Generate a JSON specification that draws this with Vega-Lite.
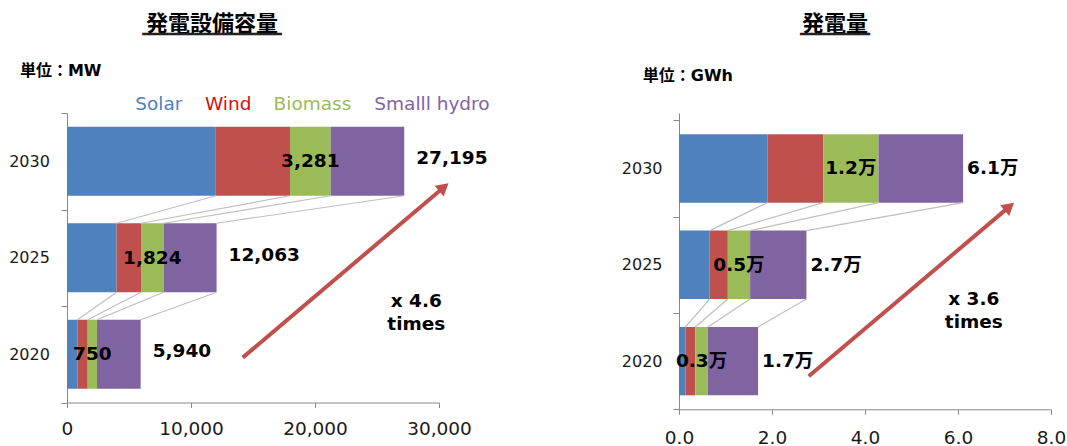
{
  "$schema": "https://vega.github.io/schema/vega-lite/v6.json",
  "padding": {"left": 8, "top": 12, "right": 0, "bottom": 0},
  "background": "white",
  "datasets": {
    "capacity": [
      {"year": "2020", "src": "Solar", "k": 1, "v": 850},
      {"year": "2020", "src": "Wind", "k": 2, "v": 820},
      {"year": "2020", "src": "Biomass", "k": 3, "v": 750},
      {"year": "2020", "src": "Smalll hydro", "k": 4, "v": 3520},
      {"year": "2025", "src": "Solar", "k": 1, "v": 4000},
      {"year": "2025", "src": "Wind", "k": 2, "v": 1970},
      {"year": "2025", "src": "Biomass", "k": 3, "v": 1824},
      {"year": "2025", "src": "Smalll hydro", "k": 4, "v": 4269},
      {"year": "2030", "src": "Solar", "k": 1, "v": 12000},
      {"year": "2030", "src": "Wind", "k": 2, "v": 5985},
      {"year": "2030", "src": "Biomass", "k": 3, "v": 3281},
      {"year": "2030", "src": "Smalll hydro", "k": 4, "v": 5929}
    ],
    "generation": [
      {"year": "2020", "src": "Solar", "k": 1, "v": 0.14},
      {"year": "2020", "src": "Wind", "k": 2, "v": 0.21},
      {"year": "2020", "src": "Biomass", "k": 3, "v": 0.27},
      {"year": "2020", "src": "Smalll hydro", "k": 4, "v": 1.08},
      {"year": "2025", "src": "Solar", "k": 1, "v": 0.66},
      {"year": "2025", "src": "Wind", "k": 2, "v": 0.39},
      {"year": "2025", "src": "Biomass", "k": 3, "v": 0.48},
      {"year": "2025", "src": "Smalll hydro", "k": 4, "v": 1.21},
      {"year": "2030", "src": "Solar", "k": 1, "v": 1.9},
      {"year": "2030", "src": "Wind", "k": 2, "v": 1.2},
      {"year": "2030", "src": "Biomass", "k": 3, "v": 1.19},
      {"year": "2030", "src": "Smalll hydro", "k": 4, "v": 1.82}
    ]
  },
  "config": {
    "view": {"stroke": null},
    "axis": {"grid": false, "domainColor": "#898989", "tickColor": "#898989", "labelColor": "#1a1a1a", "labelFont": "DejaVu Sans", "labelOverlap": false, "labelFlush": false}
  },
  "resolve": {"legend": {"color": "independent"}},
  "spacing": 131,
  "hconcat": [
    {
      "width": 372,
      "height": 289.5,
      "data": {"name": "capacity"},
      "title": {
        "text": "発電設備容量",
        "subtitle": "━━━━━━━━━━━━━━━━",
        "font": "Noto Sans CJK JP",
        "fontSize": 22,
        "fontWeight": "bold",
        "color": "#000000",
        "subtitleFont": "DejaVu Sans Mono",
        "subtitleFontSize": 14.5,
        "subtitleColor": "#222222",
        "subtitlePadding": -8,
        "anchor": "middle",
        "frame": "group",
        "dx": -41,
        "offset": 20
      },
      "layer": [
        {
          "mark": {"type": "bar", "height": {"band": 0.715}},
          "encoding": {
            "y": {
              "field": "year", "type": "nominal",
              "scale": {"domain": ["2030", "2025", "2020"], "paddingInner": 0, "paddingOuter": 0},
              "axis": {
                "title": "単位：MW", "titleAngle": 0, "titleX": -47.6, "titleY": -43,
                "titleAlign": "left", "titleBaseline": "middle",
                "titleFont": "DejaVu Sans, Noto Sans CJK JP", "titleFontWeight": "bold", "titleFontSize": 16, "titleColor": "#000000",
                "tickBand": "extent", "tickSize": 6, "labelPadding": 11.6, "labelFontSize": 16
              }
            },
            "x": {
              "field": "v", "type": "quantitative", "stack": "zero",
              "scale": {"domain": [0, 30000]},
              "axis": {"values": [0, 10000, 20000, 30000], "format": ",d", "title": null, "tickSize": 5, "labelPadding": 12, "labelFontSize": 18.5}
            },
            "color": {
              "field": "src", "type": "nominal",
              "scale": {"domain": ["Solar", "Wind", "Biomass", "Smalll hydro"], "range": ["#4F81BD", "#C0504D", "#9BBB59", "#8064A2"]},
              "legend": {
                "orient": "none", "legendX": 49.7, "legendY": -18, "direction": "horizontal", "title": null,
                "symbolSize": 0, "symbolStrokeWidth": 0, "symbolOpacity": 0, "labelOffset": 0, "columnPadding": 3.7,
                "labelFont": "DejaVu Sans", "labelFontSize": 18.5, "labelLimit": 0,
                "labelColor": {"expr": "datum.value === 'Solar' ? '#4F81BD' : datum.value === 'Wind' ? '#D01010' : datum.value === 'Biomass' ? '#9BBB59' : '#8064A2'"}
              }
            },
            "order": {"field": "k", "type": "quantitative"}
          }
        },
        {
          "transform": [
            {"stack": "v", "groupby": ["year"], "sort": [{"field": "k"}], "as": ["s0", "s1"]},
            {"pivot": "year", "value": "s1", "groupby": ["k"]}
          ],
          "mark": {"type": "rule", "color": "#BFBFBF", "strokeWidth": 1.2},
          "encoding": {
            "x": {"field": "2030", "type": "quantitative"},
            "x2": {"field": "2025"},
            "y": {"datum": "2030", "type": "nominal", "bandPosition": 0.8575},
            "y2": {"datum": "2025", "bandPosition": 0.1425}
          }
        },
        {
          "transform": [
            {"stack": "v", "groupby": ["year"], "sort": [{"field": "k"}], "as": ["s0", "s1"]},
            {"pivot": "year", "value": "s1", "groupby": ["k"]}
          ],
          "mark": {"type": "rule", "color": "#BFBFBF", "strokeWidth": 1.2},
          "encoding": {
            "x": {"field": "2025", "type": "quantitative"},
            "x2": {"field": "2020"},
            "y": {"datum": "2025", "type": "nominal", "bandPosition": 0.8575},
            "y2": {"datum": "2020", "bandPosition": 0.1425}
          }
        },
        {
          "transform": [
            {"stack": "v", "groupby": ["year"], "sort": [{"field": "k"}], "as": ["s0", "s1"]},
            {"filter": "datum.src === 'Biomass'"},
            {"calculate": "(datum.s0 + datum.s1) / 2", "as": "mid"}
          ],
          "mark": {"type": "text", "font": "DejaVu Sans", "fontWeight": "bold", "fontSize": 18.5, "color": "#000000"},
          "encoding": {
            "x": {"field": "mid", "type": "quantitative"},
            "y": {"field": "year", "type": "nominal"},
            "text": {"field": "v", "type": "quantitative", "format": ",d"}
          }
        },
        {
          "transform": [{"aggregate": [{"op": "sum", "field": "v", "as": "total"}], "groupby": ["year"]}],
          "mark": {"type": "text", "align": "left", "dx": 12, "dy": -3, "font": "DejaVu Sans", "fontWeight": "bold", "fontSize": 18.5, "color": "#000000"},
          "encoding": {
            "x": {"field": "total", "type": "quantitative"},
            "y": {"field": "year", "type": "nominal"},
            "text": {"field": "total", "type": "quantitative", "format": ",d"}
          }
        },
        {
          "data": {"values": [{}]},
          "mark": {"type": "rule", "color": "#C0504D", "strokeWidth": 4},
          "encoding": {
            "x": {"datum": 14170, "type": "quantitative"},
            "x2": {"datum": 30390},
            "y": {"datum": "2020", "type": "nominal", "bandPosition": 0.535},
            "y2": {"datum": "2030", "bandPosition": 0.769}
          }
        },
        {
          "data": {"values": [{}]},
          "mark": {"type": "point", "shape": "triangle-up", "filled": true, "size": 200, "angle": 50, "color": "#C0504D", "opacity": 1},
          "encoding": {
            "x": {"datum": 30390, "type": "quantitative"},
            "y": {"datum": "2030", "type": "nominal", "bandPosition": 0.769}
          }
        },
        {
          "data": {"values": [{}]},
          "mark": {"type": "text", "lineBreak": "\n", "lineHeight": 22.7, "font": "DejaVu Sans", "fontWeight": "bold", "fontSize": 18.5, "color": "#000000"},
          "encoding": {
            "x": {"datum": 28170, "type": "quantitative"},
            "y": {"datum": "2025", "type": "nominal", "bandPosition": 0.95},
            "text": {"value": "x 4.6\ntimes"}
          }
        }
      ]
    },
    {
      "width": 372,
      "height": 296.3,
      "data": {"name": "generation"},
      "title": {
        "text": "発電量",
        "subtitle": "━━━━━━━━",
        "font": "Noto Sans CJK JP",
        "fontSize": 22,
        "fontWeight": "bold",
        "color": "#000000",
        "subtitleFont": "DejaVu Sans Mono",
        "subtitleFontSize": 14.5,
        "subtitleColor": "#222222",
        "subtitlePadding": -8,
        "anchor": "middle",
        "frame": "group",
        "dx": -30,
        "offset": 25
      },
      "layer": [
        {
          "mark": {"type": "bar", "height": {"band": 0.71}},
          "encoding": {
            "y": {
              "field": "year", "type": "nominal",
              "scale": {"domain": ["2030", "2025", "2020"], "paddingInner": 0, "paddingOuter": 0.0379, "align": 1},
              "axis": {
                "title": "単位：GWh", "titleAngle": 0, "titleX": -36.7, "titleY": -38,
                "titleAlign": "left", "titleBaseline": "middle",
                "titleFont": "DejaVu Sans, Noto Sans CJK JP", "titleFontWeight": "bold", "titleFontSize": 16, "titleColor": "#000000",
                "tickBand": "extent", "tickSize": 6, "labelPadding": 11, "labelFontSize": 16
              }
            },
            "x": {
              "field": "v", "type": "quantitative", "stack": "zero",
              "scale": {"domain": [0, 8]},
              "axis": {"values": [0, 2, 4, 6, 8], "format": ".1f", "title": null, "tickSize": 5, "labelPadding": 14, "labelFontSize": 18.5}
            },
            "color": {
              "field": "src", "type": "nominal",
              "scale": {"domain": ["Solar", "Wind", "Biomass", "Smalll hydro"], "range": ["#4F81BD", "#C0504D", "#9BBB59", "#8064A2"]},
              "legend": null
            },
            "order": {"field": "k", "type": "quantitative"}
          }
        },
        {
          "transform": [
            {"stack": "v", "groupby": ["year"], "sort": [{"field": "k"}], "as": ["s0", "s1"]},
            {"pivot": "year", "value": "s1", "groupby": ["k"]}
          ],
          "mark": {"type": "rule", "color": "#BFBFBF", "strokeWidth": 1.2},
          "encoding": {
            "x": {"field": "2030", "type": "quantitative"},
            "x2": {"field": "2025"},
            "y": {"datum": "2030", "type": "nominal", "bandPosition": 0.855},
            "y2": {"datum": "2025", "bandPosition": 0.145}
          }
        },
        {
          "transform": [
            {"stack": "v", "groupby": ["year"], "sort": [{"field": "k"}], "as": ["s0", "s1"]},
            {"pivot": "year", "value": "s1", "groupby": ["k"]}
          ],
          "mark": {"type": "rule", "color": "#BFBFBF", "strokeWidth": 1.2},
          "encoding": {
            "x": {"field": "2025", "type": "quantitative"},
            "x2": {"field": "2020"},
            "y": {"datum": "2025", "type": "nominal", "bandPosition": 0.855},
            "y2": {"datum": "2020", "bandPosition": 0.145}
          }
        },
        {
          "transform": [
            {"stack": "v", "groupby": ["year"], "sort": [{"field": "k"}], "as": ["s0", "s1"]},
            {"filter": "datum.src === 'Biomass'"},
            {"calculate": "(datum.s0 + datum.s1) / 2", "as": "mid"},
            {"calculate": "format(datum.v, '.1f') + '万'", "as": "lbl"}
          ],
          "mark": {"type": "text", "font": "DejaVu Sans, Noto Sans CJK JP", "fontWeight": "bold", "fontSize": 18.5, "color": "#000000"},
          "encoding": {
            "x": {"field": "mid", "type": "quantitative"},
            "y": {"field": "year", "type": "nominal"},
            "text": {"field": "lbl", "type": "nominal"}
          }
        },
        {
          "transform": [
            {"aggregate": [{"op": "sum", "field": "v", "as": "total"}], "groupby": ["year"]},
            {"calculate": "format(datum.total, '.1f') + '万'", "as": "lbl"}
          ],
          "mark": {"type": "text", "align": "left", "dx": 4, "font": "DejaVu Sans, Noto Sans CJK JP", "fontWeight": "bold", "fontSize": 18.5, "color": "#000000"},
          "encoding": {
            "x": {"field": "total", "type": "quantitative"},
            "y": {"field": "year", "type": "nominal"},
            "text": {"field": "lbl", "type": "nominal"}
          }
        },
        {
          "data": {"values": [{}]},
          "mark": {"type": "rule", "color": "#C0504D", "strokeWidth": 4},
          "encoding": {
            "x": {"datum": 2.79, "type": "quantitative"},
            "x2": {"datum": 7.105},
            "y": {"datum": "2020", "type": "nominal", "bandPosition": 0.657},
            "y2": {"datum": "2030", "bandPosition": 0.896}
          }
        },
        {
          "data": {"values": [{}]},
          "mark": {"type": "point", "shape": "triangle-up", "filled": true, "size": 200, "angle": 50, "color": "#C0504D", "opacity": 1},
          "encoding": {
            "x": {"datum": 7.105, "type": "quantitative"},
            "y": {"datum": "2030", "type": "nominal", "bandPosition": 0.896}
          }
        },
        {
          "data": {"values": [{}]},
          "mark": {"type": "text", "lineBreak": "\n", "lineHeight": 22.7, "font": "DejaVu Sans", "fontWeight": "bold", "fontSize": 18.5, "color": "#000000"},
          "encoding": {
            "x": {"datum": 6.34, "type": "quantitative"},
            "y": {"datum": "2025", "type": "nominal", "bandPosition": 0.86},
            "text": {"value": "x 3.6\ntimes"}
          }
        }
      ]
    }
  ]
}
